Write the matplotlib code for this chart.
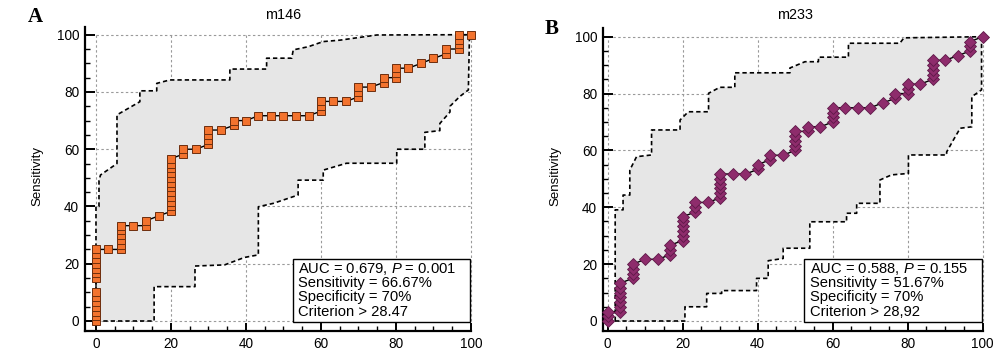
import matplotlib
matplotlib.use("Agg")
import matplotlib.pyplot as plt
from matplotlib.ticker import MultipleLocator
from matplotlib.patches import Rectangle
import numpy as np

plt.rcParams['font.family'] = ['Liberation Sans', 'DejaVu Sans']
plt.rcParams['mathtext.fontset'] = 'custom'
plt.rcParams['mathtext.rm'] = 'Liberation Sans'
plt.rcParams['mathtext.it'] = 'Liberation Sans:italic'

# ---------------- data ----------------
titles = ["m146", "m233"]
panel_letters = ["A", "B"]
y_label = "Sensitivity"
axis_ticks = [0, 20, 40, 60, 80, 100]

m146_fpr = [0, 0, 0, 0, 0, 0, 0, 0, 0, 0, 0, 0, 0, 0,
            3.3,
            6.7, 6.7, 6.7, 6.7, 6.7, 6.7,
            10.0, 13.3, 13.3, 16.7,
            20, 20, 20, 20, 20, 20, 20, 20, 20, 20, 20, 20,
            23.3, 23.3, 26.7,
            30, 30, 30, 30,
            33.3, 36.7, 36.7, 40,
            43.3, 46.7, 50, 53.3, 56.7,
            60, 60, 60,
            63.3, 66.7,
            70, 70, 70, 73.3,
            76.7, 76.7,
            80, 80, 80,
            83.3, 86.7, 90, 93.3, 93.3,
            96.7, 96.7, 96.7, 96.7,
            100]
m146_tpr = [0, 1.7, 3.3, 5, 6.7, 8.3, 10, 15, 16.7, 18.3, 20, 21.7, 23.3, 25,
            25,
            25, 26.7, 28.3, 30, 31.7, 33.3,
            33.3, 33.3, 35, 36.7,
            38.3, 40, 41.7, 43.3, 45, 46.7, 48.3, 50, 51.7, 53.3, 55, 56.7,
            58.3, 60, 60,
            61.7, 63.3, 65, 66.7,
            66.7, 68.3, 70, 70,
            71.7, 71.7, 71.7, 71.7, 71.7,
            73.3, 75, 76.7,
            76.7, 76.7,
            78.3, 80, 81.7, 81.7,
            83.3, 85,
            85, 86.7, 88.3,
            88.3, 90, 91.7, 93.3, 95,
            95, 96.7, 98.3, 100,
            100]

m146_upper_x = [0, 0, 0.8, 0.8, 1.2, 5.6, 5.6, 11.7, 11.7, 16.2, 16.2, 19.7, 35.7, 35.7,
                45.5, 45.5, 52.2, 52.6, 56.6, 60.6, 65.1, 74.9, 100]
m146_upper_y = [0, 40, 40, 49, 51, 55, 72, 76.6, 80.4, 80.4, 83, 84.2, 84.2, 88,
                88, 91.8, 91.8, 94.7, 95.8, 97.6, 98.1, 99.9, 100]
m146_lower_x = [0, 15.5, 15.5, 26.4, 26.4, 34.3, 39.6, 43.3, 43.3, 47.3, 53.9, 53.9,
                60.6, 60.6, 66.8, 80.2, 80.2, 87.7, 87.7, 91.7, 91.7, 94.4, 94.4, 97.0,
                99.3, 99.6, 100]
m146_lower_y = [0, 0, 12, 12, 19.2, 19.6, 22.2, 23.1, 39.9, 41.1, 44, 49.2,
                49.2, 52.7, 55.1, 55.1, 60, 60, 65.9, 66.5, 69, 73, 75, 78.4,
                80.7, 100, 100]

m233_fpr = [0, 0, 0,
            3.3, 3.3, 3.3, 3.3, 3.3, 3.3, 3.3,
            6.7, 6.7, 6.7, 6.7,
            10.0, 13.3,
            16.7, 16.7, 16.7,
            20, 20, 20, 20, 20, 20,
            23.3, 23.3, 23.3,
            26.7,
            30, 30, 30, 30, 30, 30,
            33.3, 36.7,
            40, 40,
            43.3, 43.3,
            46.7,
            50, 50, 50, 50, 50,
            53.3, 53.3,
            56.7,
            60, 60, 60, 60,
            63.3, 66.7, 70,
            73.3,
            76.7, 76.7,
            80, 80, 80,
            83.3,
            86.7, 86.7, 86.7, 86.7, 86.7,
            90, 93.3,
            96.7, 96.7, 96.7,
            100]
m233_tpr = [0, 1.7, 3.3,
            3.3, 5, 6.7, 8.3, 10, 11.7, 13.3,
            15, 16.7, 18.3, 20,
            21.7, 21.7,
            23.3, 25, 26.7,
            28.3, 30, 31.7, 33.3, 35, 36.7,
            38.3, 40, 41.7,
            41.7,
            43.3, 45, 46.7, 48.3, 50, 51.7,
            51.7, 51.7,
            53.3, 55,
            56.7, 58.3,
            58.3,
            60, 61.7, 63.3, 65, 66.7,
            66.7, 68.3,
            68.3,
            70, 71.7, 73.3, 75,
            75, 75, 75,
            76.7,
            78.3, 80,
            80, 81.7, 83.3,
            83.3,
            85, 86.7, 88.3, 90, 91.7,
            91.7, 93.3,
            95, 96.7, 98.3,
            100]

m233_upper_x = [2, 2, 4.1, 4.1, 5.9, 5.9, 7.7, 11.7, 11.7, 19.3, 19.3, 21.5, 26.9, 26.9,
                29.9, 33.9, 33.9, 48.6, 48.6, 52.6, 56.2, 56.2, 64.2, 64.2, 77.9, 79, 100]
m233_upper_y = [0, 39.1, 39.1, 44.3, 44.3, 53.1, 57.8, 58.4, 67.2, 67.2, 70.7, 73.6, 73.6, 80.1,
                82.2, 82.2, 87.3, 87.3, 89, 91.2, 91.2, 92.8, 92.8, 97.7, 97.7, 99.6, 100]
m233_lower_x = [0, 20.6, 20.6, 26.4, 26.4, 30.4, 30.4, 39.7, 39.7, 42.8, 42.8, 46.8, 46.8,
                53.9, 53.9, 63.7, 63.7, 66.4, 66.4, 72.6, 72.6, 75.7, 80.2, 80.2, 90.4,
                90.4, 92.2, 94.0, 97.1, 97.1, 99.7, 99.7, 100]
m233_lower_y = [0, 0, 5, 5, 9.7, 9.7, 10.7, 10.7, 15, 15, 21.2, 22, 25.6,
                25.6, 34.9, 34.9, 37.9, 37.9, 41.4, 41.4, 49.6, 51.4, 51.9, 58.4, 58.4,
                59.5, 63.7, 67.8, 68.3, 78.9, 81.3, 100, 100]

stats_text = [
    [r"AUC = 0.679, $\mathit{P}$ = 0.001", "Sensitivity = 66.67%",
     "Specificity = 70%", "Criterion > 28.47"],
    [r"AUC = 0.588, $\mathit{P}$ = 0.155", "Sensitivity = 51.67%",
     "Specificity = 70%", "Criterion > 28,92"],
]

# ---------------- styles / layout ----------------
marker_styles = [
    dict(marker='s', ms=5.8, mfc='#F3732E', mec='#6E2E0E', mew=0.7),
    dict(marker='D', ms=5.8, mfc='#8E2C6C', mec='#5E1848', mew=0.6),
]
layouts = [
    dict(left=85.3, xmin=-2.85, xmax=100.5, ymin=-3.4, ymax=102.6, ys=2.863, y0px=321.0),
    dict(left=603.3, xmin=-1.17, xmax=100.5, ymin=-3.4, ymax=103.0, ys=2.843, y0px=321.0),
]
xs = 3.75
W, H = 1000, 352
fig = plt.figure(figsize=(10, 3.52), dpi=100)

band_fill = '#E6E6E6'
grid_col = '#9A9A9A'

datasets = [
    (m146_fpr, m146_tpr, m146_upper_x, m146_upper_y, m146_lower_x, m146_lower_y),
    (m233_fpr, m233_tpr, m233_upper_x, m233_upper_y, m233_lower_x, m233_lower_y),
]
letter_pos = [(35, 17.5), (551.5, 29)]
ylabel_x = [37, 555]

for i, (fpr, tpr, ux, uy, lx, ly) in enumerate(datasets):
    L = layouts[i]
    wpx = (L['xmax'] - L['xmin']) * xs
    hpx = (L['ymax'] - L['ymin']) * L['ys']
    bottom_px = L['y0px'] - L['ymin'] * L['ys']
    ax = fig.add_axes([L['left'] / W, (H - bottom_px) / H, wpx / W, hpx / H])
    ax.set_xlim(L['xmin'], L['xmax'])
    ax.set_ylim(L['ymin'], L['ymax'])

    for t in axis_ticks:
        ax.plot([t, t], [0, 100], color=grid_col, lw=0.8, ls=(0, (2.2, 2.2)), zorder=0.5)
        ax.plot([0, 100], [t, t], color=grid_col, lw=0.8, ls=(0, (2.2, 2.2)), zorder=0.5)

    px = np.concatenate([np.array(ux), np.array(lx)[::-1]])
    py = np.concatenate([np.array(uy), np.array(ly)[::-1]])
    ax.fill(px, py, color=band_fill, lw=0, zorder=1)
    ax.plot(ux, uy, color='black', lw=1.2, ls=(0, (2.6, 1.8)), zorder=2)
    ax.plot(lx, ly, color='black', lw=1.2, ls=(0, (2.6, 1.8)), zorder=2)

    ax.plot(fpr, tpr, color='black', lw=1.0, zorder=3, clip_on=False)
    ax.plot(fpr, tpr, ls='none', zorder=4, clip_on=False, **marker_styles[i])

    ax.add_patch(Rectangle((52.45, -0.3), 47.3, 22.0, facecolor='white',
                           edgecolor='black', lw=1.0, zorder=5))
    for k, line in enumerate(stats_text[i]):
        base_px = 273.3 + k * 14.1
        yb = (L['y0px'] - base_px) / L['ys']
        ax.text(53.9, yb, line, fontsize=10.6, va='baseline', ha='left', zorder=6)

    for s in ['top', 'right']:
        ax.spines[s].set_visible(False)
    ax.spines['left'].set_linewidth(1.6)
    ax.spines['bottom'].set_linewidth(1.6)
    ax.spines['bottom'].set_bounds(L['xmin'], 100)
    ax.set_xticks(axis_ticks)
    ax.set_yticks(axis_ticks)
    ax.xaxis.set_minor_locator(MultipleLocator(5))
    ax.yaxis.set_minor_locator(MultipleLocator(5))
    ax.tick_params(which='major', direction='in', width=1.4, labelsize=9.8, pad=4.5)
    ax.tick_params(axis='y', which='major', length=7.5)
    ax.tick_params(axis='x', which='major', length=6)
    ax.tick_params(which='minor', direction='in', length=3.8, width=1.0)
    ax.set_facecolor('none')

    cx = L['left'] + (0 - L['xmin']) * xs + 50 * xs
    fig.text(cx / W, 1 - 15 / H, titles[i], fontsize=10.4, ha='center', va='center')
    lx_, ly_ = letter_pos[i]
    fig.text(lx_ / W, 1 - ly_ / H, panel_letters[i], fontsize=15, fontweight='bold',
             family='Liberation Serif', ha='center', va='center')
    fig.text(ylabel_x[i] / W, 1 - 176 / H, y_label, fontsize=9.5, rotation=90,
             ha='center', va='center')

fig.savefig('out.png', dpi=100)
